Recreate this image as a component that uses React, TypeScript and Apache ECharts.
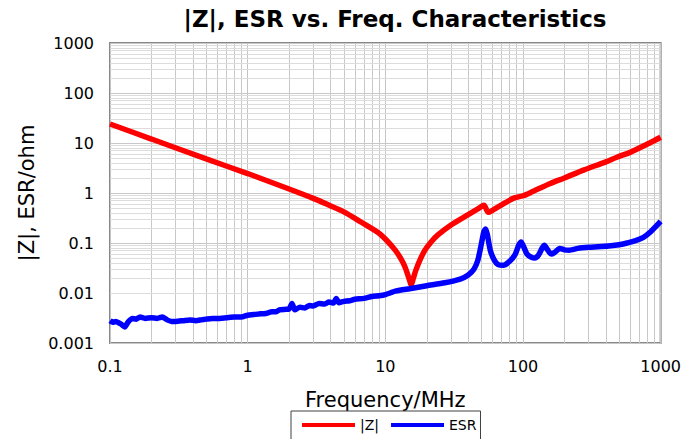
import React, { useEffect, useRef } from "react";
import * as echarts from "echarts";

const zFreq = [0.1, 0.2, 0.5, 1, 2, 3, 3.88, 5, 6.7, 8.9, 10, 11.8, 13, 13.9, 15, 15.4, 16, 16.7, 18, 19.4, 21.5, 24.1, 30, 40, 48, 52, 56, 60, 70, 85, 100, 120, 158, 200, 278, 400, 481, 600, 832, 1000];
const zVals = [24, 12, 4.8, 2.45, 1.2, 0.78, 0.575, 0.42, 0.26, 0.16, 0.12, 0.072, 0.048, 0.033, 0.018, 0.0145, 0.02, 0.029, 0.048, 0.072, 0.105, 0.145, 0.23, 0.37, 0.5, 0.57, 0.41, 0.45, 0.58, 0.78, 0.88, 1.1, 1.55, 2.0, 2.9, 4.2, 5.2, 6.5, 10, 13];

const esrFreq = [0.1, 0.105, 0.11, 0.12, 0.128, 0.135, 0.145, 0.155, 0.165, 0.18, 0.2, 0.22, 0.24, 0.26, 0.28, 0.3, 0.34, 0.38, 0.42, 0.46, 0.5, 0.55, 0.6, 0.7, 0.8, 0.9, 1.0, 1.1, 1.2, 1.35, 1.5, 1.6, 1.7, 1.85, 2.0, 2.1, 2.2, 2.4, 2.6, 2.8, 3.0, 3.3, 3.6, 3.9, 4.2, 4.4, 4.6, 5.0, 5.5, 6, 7, 8, 9, 10, 12, 15, 20, 27, 35, 40, 44, 47, 50, 52, 53.5, 55, 58, 62, 66, 72, 80, 88, 93, 97, 101, 107, 115, 122, 130, 138, 143, 150, 160, 170, 185, 200, 217, 250, 300, 350, 420, 500, 570, 650, 750, 850, 1000];
const esrVals = [0.0028, 0.0026, 0.0027, 0.0024, 0.0021, 0.0026, 0.0031, 0.003, 0.0033, 0.0031, 0.0032, 0.0031, 0.0033, 0.0029, 0.0027, 0.0027, 0.0028, 0.0029, 0.0028, 0.0029, 0.003, 0.0031, 0.0031, 0.0032, 0.0033, 0.0033, 0.0036, 0.0037, 0.0038, 0.0039, 0.0042, 0.0042, 0.0046, 0.0047, 0.0048, 0.0062, 0.0046, 0.0052, 0.005, 0.0056, 0.0055, 0.0062, 0.006, 0.0066, 0.0063, 0.0078, 0.0064, 0.0068, 0.007, 0.0075, 0.0078, 0.0085, 0.0088, 0.0093, 0.011, 0.0122, 0.014, 0.016, 0.019, 0.023, 0.03, 0.045, 0.1, 0.17, 0.19, 0.15, 0.07, 0.045, 0.037, 0.036, 0.043, 0.06, 0.09, 0.105, 0.085, 0.06, 0.052, 0.05, 0.058, 0.08, 0.09, 0.075, 0.06, 0.065, 0.078, 0.073, 0.072, 0.078, 0.082, 0.084, 0.087, 0.092, 0.1, 0.11, 0.13, 0.17, 0.27];

const xTickLabels = ["0.1", "1", "10", "100", "1000"];
const yTickLabels = ["0.001", "0.01", "0.1", "1", "10", "100", "1000"];

const FONT = "'DejaVu Sans', Verdana, sans-serif";

function minorValues(startDecade: number, endDecade: number): number[] {
  const out: number[] = [];
  for (let d = startDecade; d < endDecade; d++) {
    for (let m = 2; m <= 9; m++) out.push(Number((m * Math.pow(10, d)).toPrecision(3)));
  }
  return out;
}

export default function App() {
  const ref = useRef<HTMLDivElement>(null);
  useEffect(() => {
    if (!ref.current) return;
    const chart = echarts.init(ref.current, null, { renderer: "svg" });
    const xMinor = minorValues(-1, 3);
    const yMinor = minorValues(-3, 3);
    const zData = zFreq.map((f, i) => [f, zVals[i]]);
    const esrData = esrFreq.map((f, i) => [f, esrVals[i]]);
    const fmt = (v: number) => Number(v.toPrecision(3)).toString();
    chart.setOption({
      animation: false,
      backgroundColor: "#ffffff",
      textStyle: { fontFamily: FONT },
      graphic: [
        {
          type: "text",
          x: 395,
          y: 19,
          style: {
            text: "|Z|, ESR vs. Freq. Characteristics",
            textAlign: "center",
            textVerticalAlign: "middle",
            font: `bold 23px ${FONT}`,
            fill: "#000",
          },
        },
      ],
      grid: {
        left: 110,
        right: 18,
        top: 43,
        bottom: 96,
        show: true,
        borderColor: "#888888",
        borderWidth: 2,
        backgroundColor: "#fff",
      },
      legend: {
        left: 291,
        top: 411,
        padding: [7, 4, 12, 11],
        borderColor: "#404040",
        borderWidth: 1,
        itemWidth: 53,
        itemHeight: 4,
        itemGap: 12,
        icon: "rect",
        textStyle: { fontSize: 14, color: "#000", fontFamily: FONT },
        data: ["|Z|", "ESR"],
      },
      xAxis: {
        type: "log",
        logBase: 10,
        min: 0.1,
        max: 1000,
        name: "Frequency/MHz",
        nameLocation: "middle",
        nameGap: 46,
        nameTextStyle: { fontSize: 21, color: "#000", fontFamily: FONT },
        axisLine: { show: false },
        axisTick: { show: false },
        axisLabel: {
          fontSize: 16,
          color: "#000",
          margin: 15,
          fontFamily: FONT,
          formatter: (v: number) => {
            const s = fmt(v);
            return xTickLabels.includes(s) ? s : "";
          },
        },
        splitLine: { show: true, lineStyle: { color: "#c4c4c4", width: 1 } },
      },
      yAxis: {
        type: "log",
        logBase: 10,
        min: 0.001,
        max: 1000,
        name: "|Z|, ESR/ohm",
        nameLocation: "middle",
        nameGap: 72,
        nameRotate: 90,
        nameTextStyle: { fontSize: 21, color: "#000", fontFamily: FONT },
        axisLine: { show: false },
        axisTick: { show: false },
        axisLabel: {
          fontSize: 16,
          color: "#000",
          margin: 16,
          fontFamily: FONT,
          formatter: (v: number) => {
            const s = fmt(v);
            return yTickLabels.includes(s) ? s : "";
          },
        },
        splitLine: { show: true, lineStyle: { color: "#c8c8c8", width: 1 } },
      },
      series: [
        {
          name: "grid",
          type: "line",
          data: [[0.1, 0.001]],
          showSymbol: false,
          lineStyle: { opacity: 0 },
          silent: true,
          z: 1,
          markLine: {
            z: 1,
            silent: true,
            symbol: "none",
            label: { show: false },
            animation: false,
            data: [
              ...xMinor.map((v) => ({ xAxis: v, lineStyle: { color: "#c8c8c8", width: 1, type: "solid" } })),
              ...yMinor.map((v) => ({ yAxis: v, lineStyle: { color: "#dcdcdc", width: 1, type: "solid" } })),
            ],
          },
        },
        {
          name: "|Z|",
          type: "line",
          data: zData,
          showSymbol: false,
          smooth: 0.3,
          color: "#ff0000",
          lineStyle: { width: 5.5, color: "#ff0000" },
          z: 3,
        },
        {
          name: "ESR",
          type: "line",
          data: esrData,
          showSymbol: false,
          smooth: 0.2,
          color: "#0000ff",
          lineStyle: { width: 5.5, color: "#0000ff" },
          z: 4,
        },
      ],
    });
    return () => chart.dispose();
  }, []);
  return (
    <div
      ref={ref}
      style={{ position: "absolute", left: 0, top: 0, width: 684, height: 439 }}
    />
  );
}
